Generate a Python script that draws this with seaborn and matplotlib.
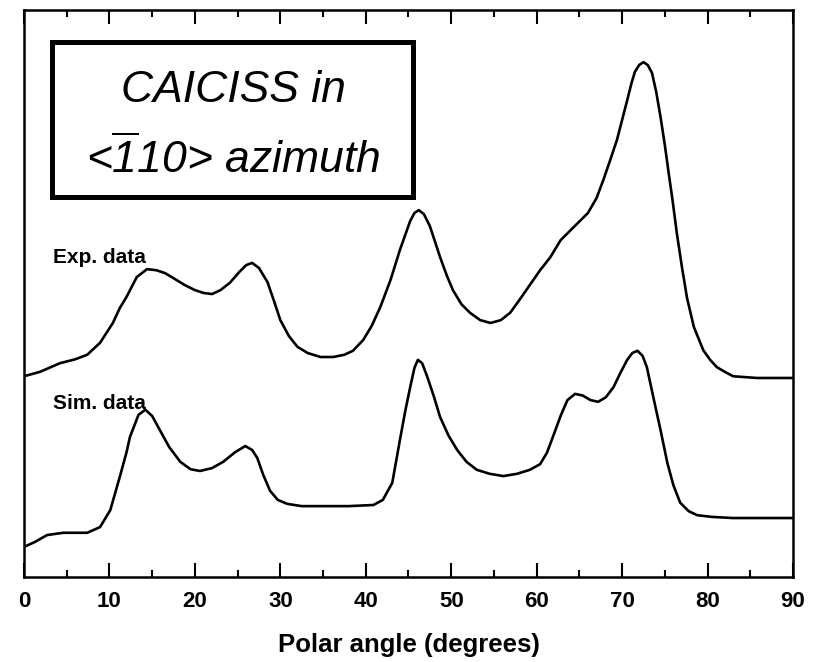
import matplotlib
matplotlib.use("Agg")
import matplotlib.pyplot as plt
from matplotlib.patches import Rectangle
from matplotlib.ticker import MultipleLocator
import pandas as pd
import seaborn as sns

# polar angle (deg) / intensity (arb. units)
EXP_ANGLE = [0, 1.9, 4.2, 6, 7.4, 8.9, 10.4, 11.2, 12, 13.2, 14.4, 15.5, 16.5,
             17.5, 18.8, 20, 21, 22, 23, 24.1, 25.2, 26, 26.7, 27.5, 28.5, 29.3,
             30, 31, 32, 33.2, 34.7, 36.2, 37.5, 38.5, 39.7, 40.7, 41.7, 42.9, 44,
             45.2, 45.7, 46.2, 46.8, 47.5, 48.7, 49.5, 50.2, 51.2, 52.2, 53.4,
             54.6, 55.8, 56.9, 58, 59.2, 60.4, 61.6, 62.8, 64, 65.2, 66, 67, 67.8,
             68.6, 69.4, 70, 70.6, 71.1, 71.5, 72, 72.5, 73, 73.5, 74, 74.5, 75,
             75.4, 75.9, 76.4, 77, 77.6, 78.4, 79.5, 80.3, 81.1, 82, 83, 85.8, 90]
EXP_INT = [35.4, 36.2, 37.7, 38.4, 39.2, 41.3, 44.8, 47.4, 49.4, 52.9, 54.3, 54.1,
           53.6, 52.7, 51.5, 50.6, 50.1, 49.9, 50.6, 51.9, 53.8, 55.0, 55.4, 54.5,
           52.0, 48.5, 45.3, 42.5, 40.6, 39.5, 38.8, 38.8, 39.2, 39.9, 41.8, 44.3,
           47.6, 52.4, 57.7, 62.8, 64.2, 64.7, 64.0, 61.9, 56.4, 53.1, 50.6, 48.1,
           46.6, 45.3, 44.8, 45.3, 46.6, 48.9, 51.5, 54.1, 56.4, 59.4, 61.2, 63.0,
           64.2, 66.8, 70.0, 73.5, 77.1, 80.6, 84.1, 87.1, 89.1, 90.3, 90.8, 90.3,
           88.9, 85.5, 81.1, 76.2, 71.8, 66.5, 60.7, 54.7, 49.2, 44.1, 40.0, 38.3,
           37.0, 36.2, 35.4, 35.1, 35.1]

SIM_ANGLE = [0, 1.3, 2.7, 4.6, 7.4, 8.9, 10.1, 11.2, 12, 12.4, 13.4, 14.2, 15,
             15.9, 17, 18.3, 19.5, 20.6, 22, 23.3, 24.7, 25.9, 26.7, 27.3, 28, 28.8,
             29.7, 30.8, 32.5, 35, 38, 40.9, 42, 43.1, 44, 44.6, 45.2, 45.7, 46.1,
             46.6, 47.2, 48, 48.7, 49.7, 50.7, 51.8, 53, 54.5, 56.1, 57.7, 59.2,
             60.4, 61.2, 61.9, 62.8, 63.6, 64.5, 65.4, 66.3, 67.2, 68.1, 69, 69.8,
             70.6, 71.2, 71.8, 72.4, 72.9, 73.7, 74.5, 75.3, 76, 76.8, 77.8, 78.8,
             80.5, 83, 90]
SIM_INT = [5.3, 6.2, 7.4, 7.8, 7.8, 8.8, 11.8, 17.6, 22.0, 24.7, 28.6, 29.5, 28.4,
           25.9, 22.9, 20.3, 19.0, 18.7, 19.2, 20.3, 22.0, 23.1, 22.4, 21.0, 18.0,
           15.2, 13.6, 12.9, 12.5, 12.5, 12.5, 12.7, 13.6, 16.6, 24.2, 29.1, 33.5,
           36.9, 38.3, 37.7, 35.3, 31.7, 28.2, 24.9, 22.4, 20.3, 18.9, 18.2, 17.8,
           18.2, 18.9, 19.9, 21.9, 24.7, 28.4, 31.2, 32.3, 32.0, 31.2, 30.9, 31.7,
           33.5, 36.0, 38.3, 39.5, 39.9, 39.0, 37.0, 31.4, 25.9, 20.1, 16.2, 13.1,
           11.6, 10.9, 10.6, 10.4, 10.4]

SERIES = ["Exp. data", "Sim. data"]
XTICKS = list(range(0, 91, 10))

sns.set_theme(style="white")
plt.rcParams["font.family"] = ["Liberation Sans", "DejaVu Sans"]
plt.rcParams["text.color"] = "black"
plt.rcParams["axes.labelcolor"] = "black"
plt.rcParams["xtick.color"] = "black"
plt.rcParams["mathtext.fontset"] = "custom"
plt.rcParams["mathtext.rm"] = "Liberation Sans:italic"
plt.rcParams["mathtext.it"] = "Liberation Sans:italic"

df = pd.concat([
    pd.DataFrame({"angle": EXP_ANGLE, "intensity": EXP_INT, "series": SERIES[0]}),
    pd.DataFrame({"angle": SIM_ANGLE, "intensity": SIM_INT, "series": SERIES[1]}),
])

fig = plt.figure(figsize=(8.22, 6.62), dpi=100)
ax = fig.add_axes([0.0292, 0.1284, 0.9355, 0.8565])

sns.lineplot(data=df, x="angle", y="intensity", hue="series",
             palette=["black", "black"], estimator=None, sort=False,
             linewidth=1.9, legend=False, ax=ax)
for line in ax.lines:
    line.set_solid_joinstyle("round")

ax.set_xlim(0, 90)
ax.set_ylim(0, 100)
ax.set_xticks(XTICKS)
ax.xaxis.set_minor_locator(MultipleLocator(5))
ax.set_yticks([])
ax.tick_params(axis="x", which="both", direction="in", top=True, bottom=True,
               width=1.5, color="black")
ax.tick_params(axis="x", which="major", length=10, pad=10, labelsize=16)
ax.tick_params(axis="x", which="minor", length=5)
for lab in ax.get_xticklabels():
    lab.set_fontweight("bold")
for sp in ax.spines.values():
    sp.set_color("black")
    sp.set_linewidth(1.8)

ax.set_xlabel("Polar angle (degrees)", fontsize=18.5, fontweight="bold", labelpad=15)
ax.set_ylabel("")

ax.text(3.4, 55.4, SERIES[0], fontsize=15, fontweight="bold", va="baseline")
ax.text(3.4, 29.6, SERIES[1], fontsize=15, fontweight="bold", va="baseline")

box = Rectangle((0.0364, 0.670), 0.4696, 0.2736, transform=ax.transAxes,
                facecolor="white", edgecolor="black", linewidth=3.6, zorder=5)
ax.add_patch(box)
ax.text(0.272, 0.838, "CAICISS in", transform=ax.transAxes, fontsize=32,
        style="italic", ha="center", va="baseline", zorder=6)
ax.text(0.272, 0.7125, r"<$\overline{1}$10> azimuth", transform=ax.transAxes,
        fontsize=32, style="italic", ha="center", va="baseline", zorder=6)

fig.savefig("out.png", dpi=100)
